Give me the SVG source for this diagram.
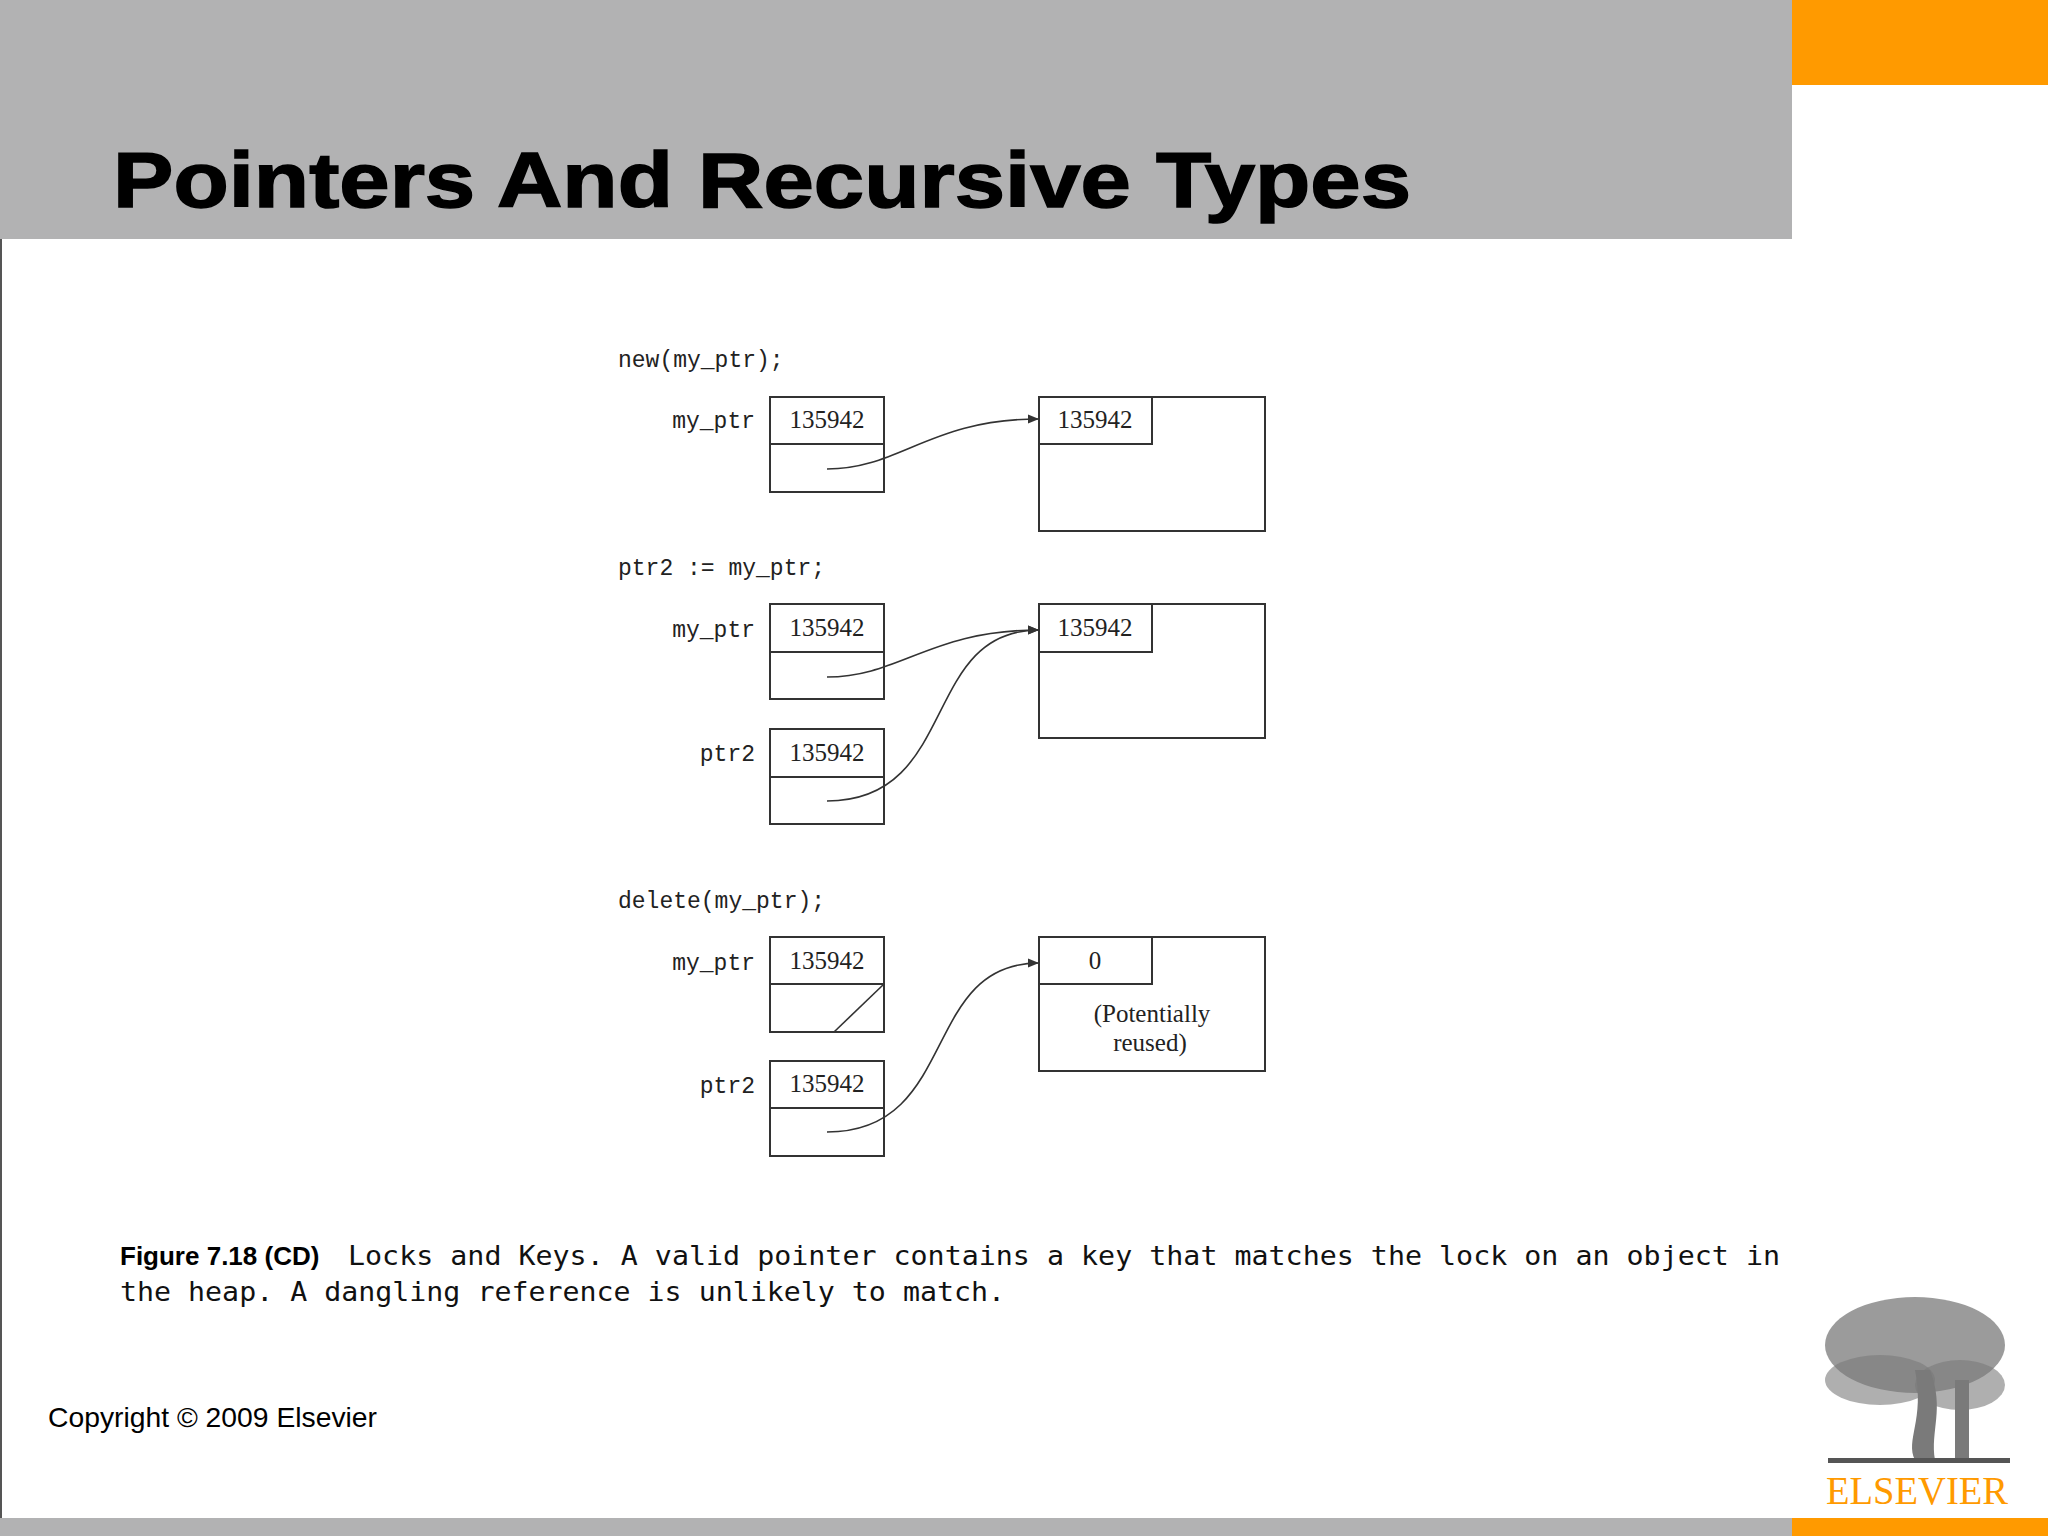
<svg xmlns="http://www.w3.org/2000/svg" width="2048" height="1536" viewBox="0 0 2048 1536">
<defs>
<style>
.mono{font-family:"Liberation Mono","DejaVu Sans Mono",monospace;font-size:23px;fill:#222}
.num{font-family:"Liberation Serif",serif;font-size:25px;fill:#222;text-anchor:middle}
.box{fill:#fff;stroke:#333;stroke-width:2}
.wire{fill:none;stroke:#333;stroke-width:1.6}
</style>
<marker id="ah" viewBox="0 0 10 10" refX="10" refY="5" markerWidth="11" markerHeight="11" markerUnits="userSpaceOnUse" orient="auto"><path d="M0,1 L10,5 L0,9 Z" fill="#333"/></marker>
</defs>
<rect width="2048" height="1536" fill="#fff"/>
<rect x="0" y="0" width="1792" height="239" fill="#b2b2b3"/>
<rect x="1792" y="0" width="256" height="85" fill="#ff9a00"/>
<rect x="0" y="1518" width="1792" height="18" fill="#b2b2b3"/>
<rect x="1792" y="1518" width="256" height="18" fill="#ff9a00"/>
<line x1="1" y1="239" x2="1" y2="1518" stroke="#555" stroke-width="2"/>
<text x="113" y="207" font-family="Liberation Sans,Arial,sans-serif" font-weight="bold" font-size="78" fill="#000" stroke="#000" stroke-width="1.5" textLength="1298" lengthAdjust="spacingAndGlyphs">Pointers And Recursive Types</text>

<text class="mono" x="618" y="367">new(my_ptr);</text>
<text class="mono" x="618" y="575">ptr2 := my_ptr;</text>
<text class="mono" x="618" y="908">delete(my_ptr);</text>

<g id="s1_myptr">
<text class="mono" x="755" y="428" text-anchor="end">my_ptr</text>
<rect class="box" x="770" y="397" width="114" height="47"/>
<rect class="box" x="770" y="444" width="114" height="48"/>
<text class="num" x="827" y="428">135942</text>
</g>
<g id="s1_obj">
<rect class="box" x="1039" y="397" width="226" height="134"/>
<rect class="box" x="1039" y="397" width="113" height="47"/>
<text class="num" x="1095" y="428">135942</text>
</g>

<g id="s2_myptr">
<text class="mono" x="755" y="637" text-anchor="end">my_ptr</text>
<rect class="box" x="770" y="604" width="114" height="48"/>
<rect class="box" x="770" y="652" width="114" height="47"/>
<text class="num" x="827" y="636">135942</text>
</g>
<g id="s2_ptr2">
<text class="mono" x="755" y="761" text-anchor="end">ptr2</text>
<rect class="box" x="770" y="729" width="114" height="48"/>
<rect class="box" x="770" y="777" width="114" height="47"/>
<text class="num" x="827" y="761">135942</text>
</g>
<g id="s2_obj">
<rect class="box" x="1039" y="604" width="226" height="134"/>
<rect class="box" x="1039" y="604" width="113" height="48"/>
<text class="num" x="1095" y="636">135942</text>
</g>

<g id="s3_myptr">
<text class="mono" x="755" y="970" text-anchor="end">my_ptr</text>
<rect class="box" x="770" y="937" width="114" height="47"/>
<rect class="box" x="770" y="984" width="114" height="48"/>
<text class="num" x="827" y="969">135942</text>
<line class="wire" x1="834" y1="1032" x2="884" y2="984"/>
</g>
<g id="s3_ptr2">
<text class="mono" x="755" y="1093" text-anchor="end">ptr2</text>
<rect class="box" x="770" y="1061" width="114" height="47"/>
<rect class="box" x="770" y="1108" width="114" height="48"/>
<text class="num" x="827" y="1092">135942</text>
</g>
<g id="s3_obj">
<rect class="box" x="1039" y="937" width="226" height="134"/>
<rect class="box" x="1039" y="937" width="113" height="47"/>
<text class="num" x="1095" y="969">0</text>
<text class="num" x="1152" y="1022">(Potentially</text>
<text class="num" x="1150" y="1051">reused)</text>
</g>

<g id="connectors">
<path class="wire" marker-end="url(#ah)" d="M827,469 C900,469 930,419 1039,419"/>
<path class="wire" marker-end="url(#ah)" d="M827,677 C900,677 930,630 1039,630"/>
<path class="wire" marker-end="url(#ah)" d="M827,801 C960,801 920,630 1039,630"/>
<path class="wire" marker-end="url(#ah)" d="M827,1132 C960,1132 920,963 1039,963"/>
</g>

<text x="120" y="1265" font-family="Liberation Sans,Arial,sans-serif" font-weight="bold" font-size="26" fill="#000">Figure 7.18 (CD)</text>
<text x="348" y="1265" font-family="DejaVu Sans Mono,monospace" font-size="27" fill="#111" textLength="1432" lengthAdjust="spacingAndGlyphs">Locks and Keys. A valid pointer contains a key that matches the lock on an object in</text>
<text x="120" y="1301" font-family="DejaVu Sans Mono,monospace" font-size="27" fill="#111" textLength="885" lengthAdjust="spacingAndGlyphs">the heap. A dangling reference is unlikely to match.</text>
<text x="48" y="1427" font-family="Liberation Sans,Arial,sans-serif" font-size="28" fill="#000" textLength="329" lengthAdjust="spacingAndGlyphs">Copyright © 2009 Elsevier</text>

<g id="logo" fill="#7a7a7a">
<ellipse cx="1915" cy="1345" rx="90" ry="48" opacity="0.75"/>
<ellipse cx="1880" cy="1380" rx="55" ry="25" opacity="0.6"/>
<ellipse cx="1960" cy="1385" rx="45" ry="25" opacity="0.6"/>
<path d="M1915,1370 C1925,1420 1905,1440 1915,1460 L1935,1460 C1930,1430 1945,1410 1930,1370 Z"/>
<rect x="1955" y="1380" width="14" height="80"/>
<rect x="1828" y="1458" width="182" height="5" fill="#555"/>
</g>
<text x="1826" y="1504" font-family="Liberation Serif,serif" font-size="40" fill="#ff9a00" textLength="182" lengthAdjust="spacingAndGlyphs">ELSEVIER</text>
</svg>
